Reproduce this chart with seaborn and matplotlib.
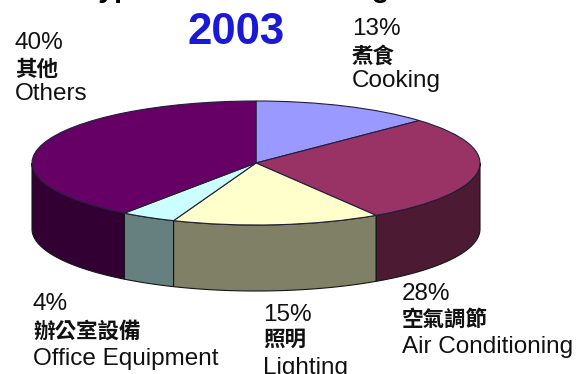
import numpy as np
import matplotlib
matplotlib.use("Agg")
import matplotlib.pyplot as plt
import seaborn as sns

# Electricity use by sector, 2003 (percent)
categories_zh = ["煮食", "空氣調節", "照明", "辦公室設備", "其他"]
categories_en = ["Cooking", "Air Conditioning", "Lighting", "Office Equipment", "Others"]
shares = [13, 28, 15, 4, 40]
top_colors = ["#9999ff", "#993366", "#ffffcc", "#ccffff", "#660066"]
side_colors = ["#4d4d80", "#4d1a33", "#808066", "#668080", "#330033"]
chart_title = "2003"
clipped_heading = "Typical Office Building"

# pixel geometry of the disc
W, H = 588, 374
CX, CY, RX, RY, DEPTH = 256, 163, 224, 62, 66
LATIN = ["Liberation Sans", "Noto Sans CJK TC"]
CJK = ["Noto Sans CJK TC", "Liberation Sans"]

sns.set_theme(style="white")
fig = plt.figure(figsize=(W / 100, H / 100), dpi=100, facecolor="white")
ax = fig.add_axes([0, 0, 1, 1])


def to_data(px, py):
    return (px - CX) / RX, (CY - py) / RY


edges = np.concatenate([[0], np.cumsum(shares)]) / np.sum(shares) * 2 * np.pi
depth = DEPTH / RY

# front wall of the cylinder, one panel per slice
for start, stop, colour in zip(edges[:-1], edges[1:], side_colors):
    lo, hi = max(start, np.pi / 2), min(stop, 3 * np.pi / 2)
    if hi <= lo:
        continue
    t = np.linspace(lo, hi, 120)
    x, y = np.sin(t), np.cos(t)
    ax.fill(np.r_[x, x[::-1]], np.r_[y, y[::-1] - depth], fc=colour,
            ec="#15151a", lw=0.8, zorder=1)

# top face
wedges, _ = ax.pie(shares, colors=top_colors, startangle=90, counterclock=False,
                   radius=1, wedgeprops=dict(ec="#20203a", lw=0.8, zorder=2))
ax.set_aspect("auto")
x0, y1 = to_data(0, 0)
x1, y0 = to_data(W, H)
ax.set_xlim(x0, x1)
ax.set_ylim(y0, y1)
ax.axis("off")


def put(px, py, text, fonts=LATIN, **kw):
    x, y = to_data(px, py)
    ax.text(x, y, text, family=fonts, ha=kw.pop("ha", "left"), va="baseline",
            color=kw.pop("color", "#111111"), zorder=5, **kw)


# heading sits mostly above the canvas, only its descenders show
put(83, -3, clipped_heading, size=20.5, weight="bold", color="black")
put(236, 44, chart_title, size=31.5, weight="bold", color="#1a1ad6", ha="center")

# x, then baselines of the percent, Chinese and English lines
labels = [
    (352, 35, 63, 87, 0),
    (402, 300, 326, 353, 1),
    (263, 321, 346, 374, 2),
    (33, 310, 338, 365, 3),
    (15, 49, 76, 100, 4),
]
for px, y_pct, y_zh, y_en, i in labels:
    put(px, y_pct, f"{shares[i]}%", size=17.5)
    put(px, y_zh, categories_zh[i], fonts=CJK, size=15.5, weight="bold")
    put(px, y_en, categories_en[i], size=17.5)

fig.savefig("out.png", dpi=100)
